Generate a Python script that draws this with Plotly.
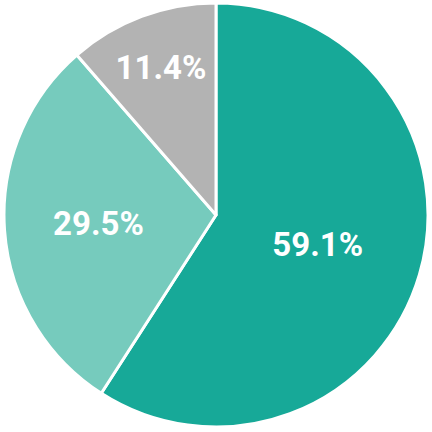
import plotly.graph_objects as go

labels = ["A", "B", "C"]
values = [59.1, 29.5, 11.4]
colors = ["#17a998", "#76cbbd", "#b3b3b3"]

fig = go.Figure(go.Pie(
    labels=labels,
    values=values,
    sort=False,
    direction="clockwise",
    rotation=0,
    marker=dict(colors=colors, line=dict(color="white", width=3)),
    texttemplate="%{value:.1f}%",
    textposition="inside",
    insidetextorientation="horizontal",
    textfont=dict(family="Roboto", size=33, color="white", weight="bold"),
    hoverinfo="none",
    domain=dict(x=[4/432, 428/432], y=[5/432, 429/432]),
))
fig.update_layout(
    width=432, height=432,
    margin=dict(l=0, r=0, t=0, b=0),
    showlegend=False,
    paper_bgcolor="white",
    uniformtext=dict(minsize=10, mode="show"),
)
fig.write_html("out.html", config={"displayModeBar": False},
               post_script="document.body.style.margin='0px';")
